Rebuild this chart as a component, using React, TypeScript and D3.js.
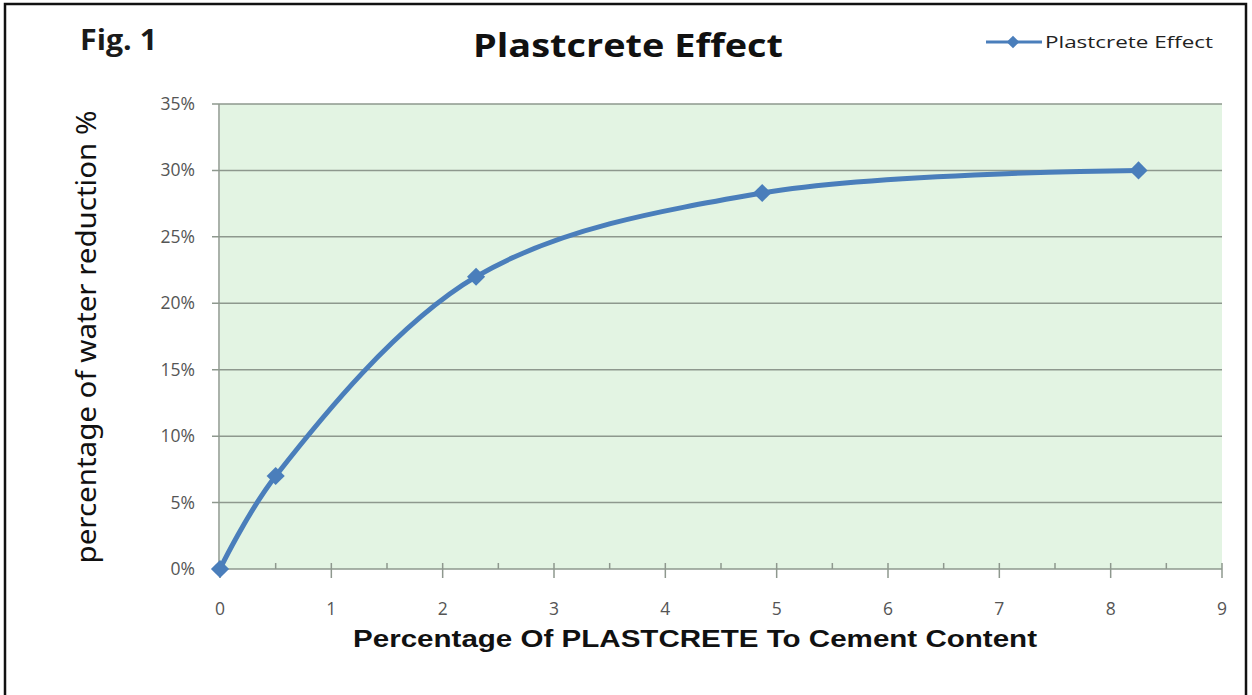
import React from "react";
import * as d3 from "d3";

// values
const dosage = [0, 0.5, 2.3, 4.87, 8.25]; // % plastcrete to cement
const reduction = [0, 0.07, 0.22, 0.283, 0.3]; // water reduction
const xTicks = [0, 1, 2, 3, 4, 5, 6, 7, 8, 9];
const yTicks = [0, 0.05, 0.1, 0.15, 0.2, 0.25, 0.3, 0.35];
const seriesName = "Plastcrete Effect";

const W = 1252;
const H = 695;
const plot = { left: 220, right: 1222, top: 104, bottom: 569 };

const lineColor = "#4a7ebb";
const gridColor = "#8e988e";
const labelFont = "'Open Sans', 'DejaVu Sans', sans-serif";

export default function App() {
  const x = d3.scaleLinear().domain([0, 9]).range([plot.left, plot.right]);
  const y = d3.scaleLinear().domain([0, 0.35]).range([plot.bottom, plot.top]);

  const points = dosage.map((d, i) => [x(d), y(reduction[i])] as [number, number]);
  const line = d3.line().curve(d3.curveCatmullRom.alpha(0.5));
  const pathData = line(points) || "";

  // minor ticks half way between the majors
  const minor = d3.range(0.5, 9, 1);
  const pct = d3.format(".0%");
  const diamond = d3.symbol().type(d3.symbolDiamond2).size(210)() || "";

  return (
    <div style={{ position: "fixed", left: 0, top: 0 }}>
      <svg width={W} height={H} style={{ display: "block", background: "#fff" }}>
        {/* outer frame */}
        <rect x={5} y={4} width={1241} height={H + 10} fill="none" stroke="#111" strokeWidth={2.5} />

        <text x={80} y={50} fontFamily={labelFont} fontWeight="bold" fontSize={28} fill="#1a1a1a"
          textLength={77} lengthAdjust="spacingAndGlyphs">Fig. 1</text>
        <text x={473} y={57} fontFamily={labelFont} fontWeight="bold" fontSize={32} fill="#111"
          textLength={310} lengthAdjust="spacingAndGlyphs">Plastcrete Effect</text>

        {/* plot area */}
        <rect x={plot.left} y={plot.top} width={plot.right - plot.left} height={plot.bottom - plot.top} fill="#e3f4e3" />
        {yTicks.map((t) => (
          <g key={t}>
            <line x1={plot.left - 8} x2={plot.right} y1={y(t)} y2={y(t)} stroke={gridColor} strokeWidth={1.5} />
            <text x={195} y={y(t) + 6} textAnchor="end" fontFamily={labelFont} fontSize={17.5} fill="#555">{pct(t)}</text>
          </g>
        ))}
        <line x1={plot.left - 1} x2={plot.left - 1} y1={plot.top} y2={plot.bottom} stroke={gridColor} strokeWidth={1.5} />
        {xTicks.map((t) => (
          <g key={t}>
            <line x1={x(t)} x2={x(t)} y1={plot.bottom - 6} y2={plot.bottom + 9} stroke={gridColor} strokeWidth={1.5} />
            <text x={x(t)} y={615} textAnchor="middle" fontFamily={labelFont} fontSize={17.5} fill="#555">{t}</text>
          </g>
        ))}
        {minor.map((t) => (
          <line key={t} x1={x(t)} x2={x(t)} y1={plot.bottom - 6} y2={plot.bottom} stroke={gridColor} strokeWidth={1.5} />
        ))}

        {/* series */}
        <path d={pathData} fill="none" stroke={lineColor} strokeWidth={5} strokeLinecap="round" />
        {points.map((p, i) => (
          <path key={i} d={diamond} transform={`translate(${p[0]},${p[1]})`} fill={lineColor} />
        ))}

        {/* axis titles */}
        <text x={695} y={647} textAnchor="middle" fontFamily="'Liberation Sans', Arial, sans-serif" fontWeight="bold"
          fontSize={24} fill="#111" textLength={684} lengthAdjust="spacingAndGlyphs">
          Percentage Of PLASTCRETE To Cement Content
        </text>
        <text transform="translate(96,337) rotate(-90)" textAnchor="middle" fontFamily="'Noto Sans', sans-serif"
          fontSize={28} fill="#111" textLength={453} lengthAdjust="spacingAndGlyphs">
          percentage of water reduction %
        </text>

        {/* legend */}
        <line x1={986} x2={1042} y1={42} y2={42} stroke={lineColor} strokeWidth={3} />
        <path d={diamond} transform="translate(1013,42) scale(0.7)" fill={lineColor} />
        <text x={1045} y={48} fontFamily={labelFont} fontSize={16} fill="#222" textLength={168}
          lengthAdjust="spacingAndGlyphs">{seriesName}</text>
      </svg>
    </div>
  );
}
